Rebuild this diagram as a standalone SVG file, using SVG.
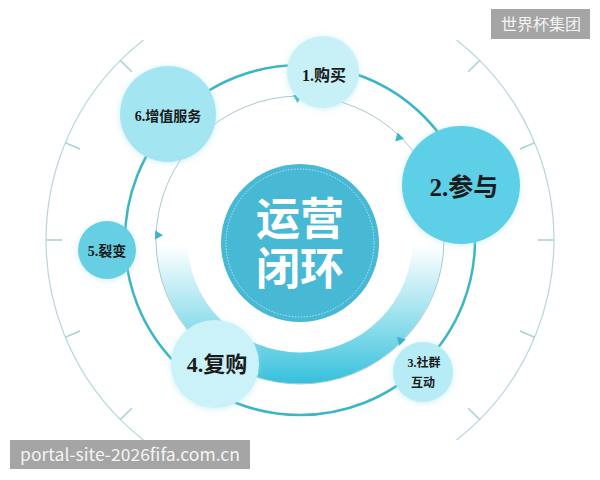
<svg xmlns="http://www.w3.org/2000/svg" xmlns:xlink="http://www.w3.org/1999/xlink" width="600" height="480" viewBox="0 0 600 480">
  <style>
    .lbl { font-family: "Liberation Serif", "Noto Sans CJK SC", serif; font-weight: bold; fill: #1b1b1b; text-anchor: middle; }
    .ctr { font-family: "Liberation Serif", "Noto Sans CJK SC", serif; font-weight: bold; fill: #ffffff; text-anchor: middle; font-size: 44px; }
    .tick { stroke: #a9d3d8; stroke-width: 1.6; }
    .wm { font-family: "Noto Sans CJK SC", "Liberation Sans", sans-serif; fill: #f4f4f4; }
  </style>
  <defs>
    <clipPath id="outerClip"><rect x="0" y="40" width="600" height="400"/></clipPath>
    <linearGradient id="bandGrad" gradientUnits="userSpaceOnUse" x1="0" y1="245" x2="0" y2="385">
      <stop offset="0" stop-color="#3ec5de" stop-opacity="0"/>
      <stop offset="0.45" stop-color="#3ec5de" stop-opacity="0.45"/>
      <stop offset="1" stop-color="#33bfdc" stop-opacity="1"/>
    </linearGradient>
    <filter id="glow" x="-30%" y="-30%" width="160%" height="160%">
      <feDropShadow dx="0" dy="1" stdDeviation="3" flood-color="#9fdfea" flood-opacity="0.5"/>
    </filter>
    <path id="arr" d="M445 235.5 L445 244.5 L437 240 Z" fill="#3bb5cb"/>
  </defs>

  <rect width="600" height="480" fill="#ffffff"/>

  <g id="outer-scale" clip-path="url(#outerClip)">
    <circle cx="300" cy="240" r="254" fill="none" stroke="#b5d7db" stroke-width="1.2"/>
    <g class="tick">
      <line x1="538" y1="240" x2="554" y2="240"/>
      <line x1="62" y1="240" x2="46" y2="240"/>
      <line x1="519.9" y1="148.9" x2="534.7" y2="142.8"/>
      <line x1="519.9" y1="331.1" x2="534.7" y2="337.2"/>
      <line x1="80.1" y1="148.9" x2="65.3" y2="142.8"/>
      <line x1="80.1" y1="331.1" x2="65.3" y2="337.2"/>
      <line x1="468.3" y1="71.7" x2="479.6" y2="60.4"/>
      <line x1="468.3" y1="408.3" x2="479.6" y2="419.6"/>
      <line x1="131.7" y1="71.7" x2="120.4" y2="60.4"/>
      <line x1="131.7" y1="408.3" x2="120.4" y2="419.6"/>
    </g>
  </g>

  <g id="connectors">
    <circle cx="300" cy="240" r="144" fill="none" stroke="#a9c9cd" stroke-width="1"/>
    <path d="M172 240 A128 128 0 0 0 428 240" fill="none" stroke="url(#bandGrad)" stroke-width="31"/>
    <circle cx="300" cy="240" r="175" fill="none" stroke="#3bb5c8" stroke-width="2.5"/>
    <use xlink:href="#arr" transform="rotate(-91 300 240)"/>
    <use xlink:href="#arr" transform="rotate(-46 300 240)"/>
    <use xlink:href="#arr" transform="rotate(45 300 240)"/>
    <use xlink:href="#arr" transform="rotate(182 300 240)"/>
  </g>

  <g id="center">
    <circle cx="300" cy="243" r="79" fill="#48b9d5"/>
    <circle cx="300" cy="243" r="74" fill="none" stroke="#cfeef6" stroke-width="0.8" stroke-dasharray="1.5 1.5"/>
    <text class="ctr" x="300" y="235">运营</text>
    <text class="ctr" x="300" y="285">闭环</text>
  </g>

  <g id="node1">
    <circle cx="323" cy="72" r="36" fill="#c8f0f7" filter="url(#glow)"/>
    <text class="lbl" x="324" y="81" font-size="16">1.购买</text>
  </g>
  <g id="node2">
    <circle cx="461" cy="185" r="59" fill="#5dcfe6" filter="url(#glow)"/>
    <text class="lbl" x="464" y="196" font-size="25">2.参与</text>
  </g>
  <g id="node3">
    <circle cx="423" cy="372" r="30" fill="#b7ecf6" filter="url(#glow)"/>
    <text class="lbl" x="424" y="367" font-size="12">3.社群</text>
    <text class="lbl" x="423" y="387" font-size="12">互动</text>
  </g>
  <g id="node4">
    <circle cx="215" cy="364" r="44" fill="#caf2f8" filter="url(#glow)"/>
    <text class="lbl" x="217" y="372" font-size="22">4.复购</text>
  </g>
  <g id="node5">
    <circle cx="107" cy="250" r="29" fill="#66cfe4" filter="url(#glow)"/>
    <text class="lbl" x="107" y="256" font-size="14">5.裂变</text>
  </g>
  <g id="node6">
    <circle cx="168" cy="114" r="48" fill="#a3e6f2" filter="url(#glow)"/>
    <text class="lbl" x="168" y="121" font-size="14">6.增值服务</text>
  </g>

  <g id="watermark-top">
    <rect x="491" y="9" width="99" height="30" fill="#a5a5a5"/>
    <text class="wm" x="541" y="30" font-size="16" text-anchor="middle">世界杯集团</text>
  </g>
  <g id="watermark-bottom">
    <rect x="10" y="440" width="240" height="29" fill="#a5a5a5"/>
    <text class="wm" x="20" y="461" font-size="17" textLength="220" lengthAdjust="spacingAndGlyphs">portal-site-2026fifa.com.cn</text>
  </g>
</svg>
